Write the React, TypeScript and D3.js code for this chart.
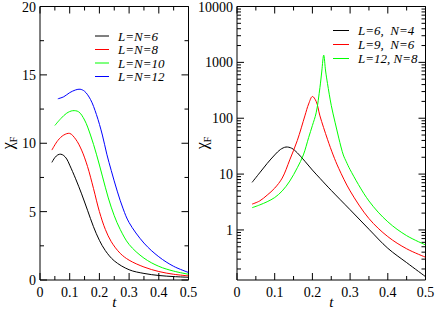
import React from "react";
import * as d3 from "d3";

// ---- Left panel data (linear y) ----
const leftLabels = ["L=N=6", "L=N=8", "L=N=10", "L=N=12"];
const leftColors = ["#000000", "#ff0000", "#00ff00", "#0000ff"];
const leftT6 = [0.04, 0.05, 0.06, 0.07, 0.08, 0.09, 0.10, 0.12, 0.14, 0.16, 0.18, 0.20, 0.22, 0.25, 0.30, 0.35, 0.40, 0.45, 0.50];
const leftV6 = [8.6, 8.95, 9.15, 9.2, 9.1, 8.85, 8.4, 7.4, 6.3, 5.1, 3.9, 2.9, 2.15, 1.4, 0.75, 0.48, 0.33, 0.25, 0.2];
const leftT8 = [0.04, 0.06, 0.08, 0.10, 0.12, 0.14, 0.16, 0.18, 0.20, 0.22, 0.24, 0.27, 0.30, 0.35, 0.40, 0.45, 0.50];
const leftV8 = [9.5, 10.2, 10.6, 10.72, 10.3, 9.5, 8.3, 6.7, 5.0, 3.7, 2.8, 1.95, 1.45, 0.95, 0.62, 0.42, 0.3];
const leftT10 = [0.05, 0.07, 0.09, 0.11, 0.13, 0.15, 0.17, 0.19, 0.21, 0.23, 0.25, 0.27, 0.30, 0.35, 0.40, 0.45, 0.50];
const leftV10 = [11.3, 11.8, 12.2, 12.38, 12.3, 11.7, 10.6, 9.2, 7.6, 6.0, 4.7, 3.7, 2.6, 1.6, 1.0, 0.65, 0.42];
const leftT12 = [0.06, 0.08, 0.10, 0.12, 0.135, 0.15, 0.17, 0.19, 0.21, 0.225, 0.24, 0.26, 0.28, 0.30, 0.35, 0.40, 0.45, 0.50];
const leftV12 = [13.25, 13.4, 13.7, 13.9, 13.95, 13.8, 13.2, 12.1, 10.6, 9.2, 8.0, 6.5, 5.2, 4.2, 2.7, 1.7, 1.0, 0.55];

// ---- Right panel data (log y) ----
const rightLabels = ["L=6,  N=4", "L=9,  N=6", "L=12, N=8"];
const rightColors = ["#000000", "#ff0000", "#00ff00"];
const rightT6 = [0.04, 0.06, 0.08, 0.10, 0.115, 0.13, 0.145, 0.16, 0.18, 0.20, 0.22, 0.25, 0.30, 0.35, 0.40, 0.45, 0.50];
const rightV6 = [7.1, 10.5, 15.5, 22, 27.5, 30.5, 29, 24, 17, 11.8, 8.4, 5.1, 2.3, 1.03, 0.47, 0.26, 0.146];
const rightT9 = [0.04, 0.06, 0.08, 0.10, 0.12, 0.14, 0.16, 0.18, 0.19, 0.20, 0.21, 0.22, 0.24, 0.255, 0.27, 0.30, 0.35, 0.40, 0.45, 0.50];
const rightV9 = [2.9, 3.3, 4.2, 5.6, 8.5, 18, 40, 110, 180, 245, 200, 110, 42, 22, 12.6, 5.0, 1.6, 0.76, 0.46, 0.325];
const rightT12 = [0.04, 0.06, 0.08, 0.10, 0.12, 0.14, 0.16, 0.176, 0.19, 0.20, 0.21, 0.22, 0.225, 0.23, 0.235, 0.24, 0.25, 0.26, 0.27, 0.282, 0.29, 0.30, 0.35, 0.40, 0.45, 0.50];
const rightV12 = [2.5, 2.8, 3.2, 3.8, 5, 7.5, 13, 22, 45, 74, 125, 355, 700, 1350, 700, 420, 170, 85, 44, 22, 16.6, 12, 3.3, 1.4, 0.79, 0.54];

const xTicks = [0, 0.1, 0.2, 0.3, 0.4, 0.5];
const xMinor = [0.05, 0.15, 0.25, 0.35, 0.45];
const leftYTicks = [0, 5, 10, 15, 20];
const leftYMinor = [2.5, 7.5, 12.5, 17.5];
const rightYTicks = [1, 10, 100, 1000, 10000];
const rightYMin = 0.127;

const FONT = "'Liberation Serif', 'Liberation Sans', Arial, sans-serif";

type Series = { t: number[]; v: number[]; color: string };

function Panel(props: {
  x0: number; x1: number; y0: number; y1: number;
  log: boolean; series: Series[]; labels: string[]; colors: string[];
  legendX: number; legendY: number; legendDy: number; legendLen: number;
  ylabelX: number;
}) {
  const { x0, x1, y0, y1, log, series } = props;
  const x = d3.scaleLinear().domain([0, 0.5]).range([x0, x1]);
  const y: any = log
    ? d3.scaleLog().domain([rightYMin, 10000]).range([y0, y1])
    : d3.scaleLinear().domain([0, 20]).range([y0, y1]);
  const line = (s: Series) =>
    d3.line<number>()
      .x((_, i) => x(s.t[i]))
      .y((d) => y(d))
      .curve(d3.curveCatmullRom.alpha(0.5))(s.v) as string;

  const majorY = log ? rightYTicks : leftYTicks;
  let minorY: number[] = [];
  if (log) {
    [0.1, 1, 10, 100, 1000].forEach((dec) => {
      for (let k = 2; k <= 9; k++) {
        const v = dec * k;
        if (v >= rightYMin && v <= 10000) minorY.push(v);
      }
    });
  } else minorY = leftYMinor;
  const MJ = 7, MN = 4;
  const tickStroke = { stroke: "#000", strokeWidth: 1 };
  return (
    <g>
      <defs>
        <clipPath id={`clip${x0}`}>
          <rect x={x0} y={y1} width={x1 - x0} height={y0 - y1} />
        </clipPath>
      </defs>
      {xTicks.map((t) => (
        <g key={"xt" + t}>
          <line x1={x(t)} x2={x(t)} y1={y0} y2={y0 - MJ} {...tickStroke} />
          <line x1={x(t)} x2={x(t)} y1={y1} y2={y1 + MJ} {...tickStroke} />
        </g>
      ))}
      {xMinor.map((t) => (
        <g key={"xm" + t}>
          <line x1={x(t)} x2={x(t)} y1={y0} y2={y0 - MN} {...tickStroke} />
          <line x1={x(t)} x2={x(t)} y1={y1} y2={y1 + MN} {...tickStroke} />
        </g>
      ))}
      {majorY.map((v) => (
        <g key={"yt" + v}>
          <line x1={x0} x2={x0 + MJ} y1={y(v)} y2={y(v)} {...tickStroke} />
          <line x1={x1} x2={x1 - MJ} y1={y(v)} y2={y(v)} {...tickStroke} />
        </g>
      ))}
      {minorY.map((v) => (
        <g key={"ym" + v}>
          <line x1={x0} x2={x0 + MN} y1={y(v)} y2={y(v)} {...tickStroke} />
          <line x1={x1} x2={x1 - MN} y1={y(v)} y2={y(v)} {...tickStroke} />
        </g>
      ))}
      <line x1={x0} x2={x0} y1={y1} y2={y0} stroke="#000" strokeWidth={1} />
      <line x1={x0} x2={x1} y1={y0} y2={y0} stroke="#000" strokeWidth={1} />
      <line x1={x0} x2={x1} y1={y1} y2={y1} stroke="#000" strokeWidth={1} />
      <line x1={x1} x2={x1} y1={y1} y2={y0} stroke="#000" strokeWidth={1} />
      {xTicks.map((t) => (
        <text key={"xl" + t} x={x(t)} y={y0 + 17} textAnchor="middle" fontFamily={FONT} fontSize={14}>
          {t === 0 ? "0" : t.toString()}
        </text>
      ))}
      {majorY.map((v) => (
        <text key={"yl" + v} x={x0 - 4} y={y(v) + 5} textAnchor="end" fontFamily={FONT} fontSize={14}>
          {v.toString()}
        </text>
      ))}
      <text x={(x0 + x1) / 2} y={307} textAnchor="middle" fontFamily={FONT} fontSize={15} fontStyle="italic">t</text>
      <text transform={`translate(${props.ylabelX},143) rotate(-90)`} textAnchor="middle" fontFamily={FONT} fontSize={16}>
        χ<tspan fontSize={10} dy={4}>F</tspan>
      </text>
      <g clipPath={`url(#clip${x0})`}>
        {series.map((s, i) => (
          <path key={i} d={line(s)} fill="none" stroke={s.color} strokeWidth={1} />
        ))}
      </g>
      {props.labels.map((lab, i) => {
        const ly = props.legendY + i * props.legendDy;
        return (
          <g key={"lg" + i}>
            <line x1={props.legendX} x2={props.legendX + props.legendLen} y1={ly} y2={ly} stroke={props.colors[i]} strokeWidth={1} />
            <text x={props.legendX + props.legendLen + 9} y={ly + 4.5} fontFamily={FONT} fontSize={13} fontStyle="italic" style={{ whiteSpace: "pre" }}>
              {lab}
            </text>
          </g>
        );
      })}
    </g>
  );
}

export default function App() {
  const leftSeries: Series[] = [
    { t: leftT6, v: leftV6, color: leftColors[0] },
    { t: leftT8, v: leftV8, color: leftColors[1] },
    { t: leftT10, v: leftV10, color: leftColors[2] },
    { t: leftT12, v: leftV12, color: leftColors[3] },
  ];
  const rightSeries: Series[] = [
    { t: rightT6, v: rightV6, color: rightColors[0] },
    { t: rightT9, v: rightV9, color: rightColors[1] },
    { t: rightT12, v: rightV12, color: rightColors[2] },
  ];
  return (
    <svg width={436} height={310} style={{ position: "absolute", left: 0, top: 0, background: "#fff" }}>
      <rect width={436} height={310} fill="#fff" />
      <Panel x0={40} x1={188.5} y0={280} y1={6.5} log={false} series={leftSeries}
        labels={leftLabels} colors={leftColors} legendX={95} legendY={36} legendDy={13.5} legendLen={14} ylabelX={13} />
      <Panel x0={237} x1={425.5} y0={280} y1={6.5} log={true} series={rightSeries}
        labels={rightLabels} colors={rightColors} legendX={333} legendY={30.5} legendDy={14} legendLen={16} ylabelX={207} />
    </svg>
  );
}
